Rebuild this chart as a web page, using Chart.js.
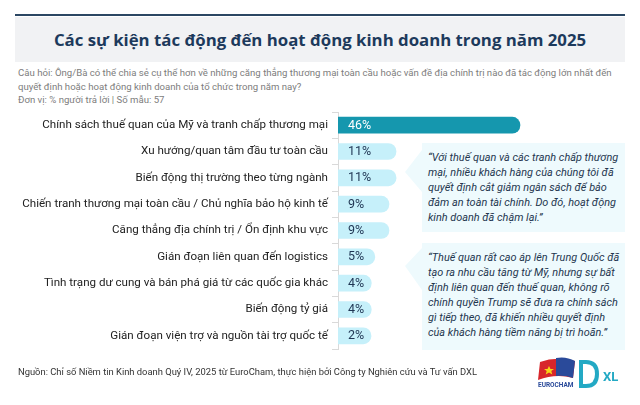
<!DOCTYPE html>
<html><head><meta charset="utf-8">
<script src="https://cdn.jsdelivr.net/npm/chart.js@4.4.1/dist/chart.umd.min.js"></script>
<style>
html,body{margin:0;padding:0;background:#fff;width:640px;height:405px;overflow:hidden;font-family:Roboto,"Noto Sans",sans-serif;}
#wrap{position:relative;width:640px;height:405px;}
.topline{position:absolute;left:15px;top:14px;width:610px;height:2px;background:#2b4763;}
.band{position:absolute;left:15px;top:17px;width:610px;height:45px;background:#f1f2f4;}
.title{position:absolute;left:0;top:27px;width:640px;text-align:center;font-family:"Open Sans",sans-serif;font-weight:700;font-size:16.8px;color:#1d3a5c;line-height:26px;}
.q{position:absolute;left:18px;top:66px;width:610px;font-size:9.6px;color:#7d7d7d;line-height:13.5px;}
.quote{position:absolute;left:422px;width:203px;background:#eefafd;font-style:italic;font-size:10.9px;color:#24364f;line-height:15px;box-sizing:border-box;padding:7px 0 0 6px;white-space:nowrap;}
.src{position:absolute;left:18px;top:366px;font-size:9.4px;color:#333;}
canvas{position:absolute;left:0;top:0;}
svg{position:absolute;left:0;top:0;}
</style></head>
<body><div id="wrap">
<div class="topline"></div>
<div class="band"></div>
<div class="title">Các sự kiện tác động đến hoạt động kinh doanh trong năm 2025</div>
<div class="q">Câu hỏi: Ông/Bà có thể chia sẻ cụ thể hơn về những căng thẳng thương mại toàn cầu hoặc vấn đề địa chính trị nào đã tác động lớn nhất đến<br>quyết định hoặc hoạt động kinh doanh của tổ chức trong năm nay?<br>Đơn vị: % người trả lời | Số mẫu: 57</div>
<svg width="640" height="405">
<polygon points="422,150 405,172 422,192" fill="#eefafd"/>
<polygon points="422,248 405,266 422,290" fill="#eefafd"/>
</svg>
<div class="quote" style="top:143px;height:89px;">“Với thuế quan và các tranh chấp thương<br>mại, nhiều khách hàng của chúng tôi đã<br>quyết định cắt giảm ngân sách để bảo<br>đảm an toàn tài chính. Do đó, hoạt động<br>kinh doanh đã chậm lại.”</div>
<div class="quote" style="top:243px;height:107px;">“Thuế quan rất cao áp lên Trung Quốc đã<br>tạo ra nhu cầu tăng từ Mỹ, nhưng sự bất<br>định liên quan đến thuế quan, không rõ<br>chính quyền Trump sẽ đưa ra chính sách<br>gì tiếp theo, đã khiến nhiều quyết định<br>của khách hàng tiềm năng bị trì hoãn.”</div>
<canvas id="c" width="640" height="405"></canvas>
<div class="src">Nguồn: Chỉ số Niềm tin Kinh doanh Quý IV, 2025 từ EuroCham, thực hiện bởi Công ty Nghiên cứu và Tư vấn DXL</div>
<svg width="640" height="405" style="pointer-events:none">
<path d="M540,362 Q556,356 575,361 L573,378 Q556,373 538,380 Z" fill="#d8262b"/>
<path d="M556,358 Q566,356 575,361 L573,378 Q565,375 556,376 Z" fill="#2a4a9a"/>
<polygon points="549,366 550.5,369 554,369 551.3,371 552.3,374.5 549,372.4 545.7,374.5 546.7,371 544,369 547.5,369" fill="#f7d417"/>
<text x="538" y="387" font-family="Roboto" font-weight="700" font-size="6.5" fill="#2a4a9a">EUROCHAM</text>
<path d="M579,360 L586,360 Q599,360 599,374 Q599,388 586,388 L579,388 Z M583,364 L586,364 Q595,364 595,374 Q595,384 586,384 L583,384 Z" fill="#23a9c4" fill-rule="evenodd"/>
<text x="603" y="381" font-family="Roboto" font-weight="700" font-size="13" fill="#23a9c4">XL</text>
</svg>
</div>
<script>
const categories = [
 "Chính sách thuế quan của Mỹ và tranh chấp thương mại",
 "Xu hướng/quan tâm đầu tư toàn cầu",
 "Biến động thị trường theo từng ngành",
 "Chiến tranh thương mại toàn cầu / Chủ nghĩa bảo hộ kinh tế",
 "Căng thẳng địa chính trị / Ổn định khu vực",
 "Gián đoạn liên quan đến logistics",
 "Tình trạng dư cung và bán phá giá từ các quốc gia khác",
 "Biến động tỷ giá",
 "Gián đoạn viện trợ và nguồn tài trợ quốc tế"
];
const values = [46, 11, 11, 9, 9, 5, 4, 4, 2];
const valueLabels = values.map(v => v + "%");
const barColors = values.map((v,i) => i === 0 ? "#1597ae" : "#c6f0fa");
const labelColors = values.map((v,i) => i === 0 ? "#ffffff" : "#1f3553");

const valuePlugin = {
  id: 'vals',
  afterDatasetsDraw(chart){
    const ctx = chart.ctx;
    const meta = chart.getDatasetMeta(0);
    ctx.save();
    ctx.font = "12.5px Roboto, sans-serif";
    ctx.textBaseline = "middle";
    ctx.textAlign = "left";
    meta.data.forEach((bar, i) => {
      ctx.fillStyle = labelColors[i];
      ctx.fillText(valueLabels[i], chart.chartArea.left + 10, bar.y + 0.5);
    });
    ctx.restore();
  }
};

new Chart(document.getElementById('c'), {
  type: 'bar',
  data: { labels: categories, datasets: [{ data: values, backgroundColor: barColors, base: -5.4, barThickness: 16, minBarLength: 33, borderRadius: {topLeft:0,bottomLeft:0,topRight:8,bottomRight:8}, borderSkipped: false }] },
  options: {
    indexAxis: 'y',
    responsive: false,
    animation: false,
    events: [],
    layout: { padding: { left: 0, right: 100, top: 112, bottom: 56 } },
    plugins: { legend: { display: false }, tooltip: { enabled: false } },
    scales: {
      x: { display: false, min: -5.4, max: 51.66 },
      y: {
        afterFit(s){ s.width = 338; },
        grid: { drawOnChartArea: false, drawTicks: true, tickLength: 6, color: "#d9d9d9", offset: true },
        border: { display: true, color: "#d9d9d9" },
        ticks: { color: "#222", font: { family: "Roboto", size: 11.6 }, padding: 4, autoSkip: false }
      }
    }
  },
  plugins: [valuePlugin]
});
</script>
</body></html>
